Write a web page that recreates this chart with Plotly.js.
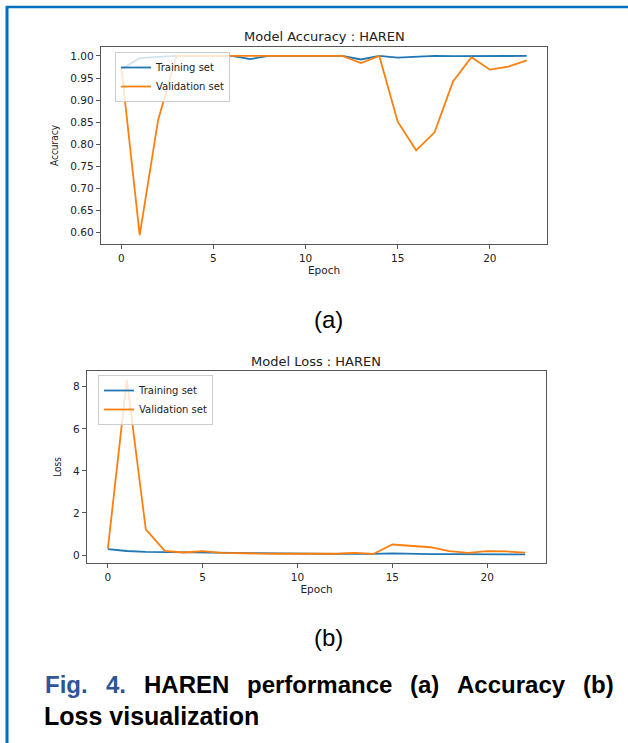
<!DOCTYPE html>
<html>
<head>
<meta charset="utf-8">
<script src="https://cdn.plot.ly/plotly-3.0.1.min.js"></script>
<style>
html,body{margin:0;padding:0;background:#fff;}
#chart{width:628px;height:743px;}
</style>
</head>
<body>
<div id="chart"></div>
<script>
// ---- data ----
const epochs = [0,1,2,3,4,5,6,7,8,9,10,11,12,13,14,15,16,17,18,19,20,21,22];
const trainAcc = [0.970,0.995,0.998,1.000,1.000,1.000,1.000,0.993,1.000,1.000,1.000,1.000,1.000,0.992,1.000,0.996,0.998,1.000,0.9995,1.000,1.000,1.000,1.000];
const valAcc   = [0.975,0.594,0.855,1.000,1.000,1.000,1.000,1.000,1.000,1.000,1.000,1.000,1.000,0.984,1.000,0.851,0.786,0.827,0.942,0.997,0.969,0.976,0.990];
const trainLoss = [0.28,0.19,0.15,0.14,0.11,0.13,0.09,0.10,0.07,0.06,0.06,0.05,0.05,0.07,0.05,0.08,0.05,0.04,0.04,0.04,0.03,0.03,0.03];
const valLoss   = [0.30,8.33,1.22,0.20,0.12,0.18,0.10,0.10,0.07,0.06,0.06,0.06,0.06,0.10,0.05,0.50,0.42,0.37,0.18,0.10,0.18,0.17,0.11];
const seriesNames = ["Training set","Validation set"];
const xTicks = [0,5,10,15,20];
const accTicks = [0.60,0.65,0.70,0.75,0.80,0.85,0.90,0.95,1.00];
const lossTicks = [0,2,4,6,8];
const captionWords = ["Fig.","4.","HAREN","performance","(a)","Accuracy","(b)"];

const W = 628, H = 743;
const px = x => x / W;
const py = y => 1 - y / H;
const BLUE = "#1f77b4", ORANGE = "#ff7f0e";
const tickFont = {family:"DejaVu Sans", size:10.5, color:"#222"};

function axisX(domain, anchor){
  return {domain:domain, anchor:anchor, range:[-1.1,23.1], tickvals:xTicks, ticktext:xTicks.map(String),
    showline:true, mirror:true, linecolor:"#555", linewidth:1.2, ticks:"outside", ticklen:4, tickcolor:"#555",
    showgrid:false, zeroline:false, tickfont:tickFont,
    title:{text:"Epoch", font:{family:"DejaVu Sans", size:10.5, color:"#222"}, standoff:2}};
}
function axisY(domain, anchor, range, ticks, fmt, title){
  return {domain:domain, anchor:anchor, range:range, tickvals:ticks, ticktext:ticks.map(v=>v.toFixed(fmt)),
    showline:true, mirror:true, linecolor:"#555", linewidth:1.2, ticks:"outside", ticklen:4, tickcolor:"#555",
    showgrid:false, zeroline:false, tickfont:tickFont,
    title:{text:title, font:{family:"DejaVu Sans Condensed, DejaVu Sans", size:10, color:"#222"}, standoff:9}};
}

const traces = [
  {x:epochs, y:trainAcc, type:"scatter", mode:"lines", name:seriesNames[0], line:{color:BLUE, width:1.8}, xaxis:"x", yaxis:"y", legend:"legend"},
  {x:epochs, y:valAcc, type:"scatter", mode:"lines", name:seriesNames[1], line:{color:ORANGE, width:1.8}, xaxis:"x", yaxis:"y", legend:"legend"},
  {x:epochs, y:trainLoss, type:"scatter", mode:"lines", name:seriesNames[0], line:{color:BLUE, width:1.8}, xaxis:"x2", yaxis:"y2", legend:"legend2"},
  {x:epochs, y:valLoss, type:"scatter", mode:"lines", name:seriesNames[1], line:{color:ORANGE, width:1.8}, xaxis:"x2", yaxis:"y2", legend:"legend2"}
];

const legendStyle = (x,y) => ({x:x, y:y, xanchor:"left", yanchor:"top", bgcolor:"rgba(255,255,255,0.8)",
  bordercolor:"#ccc", borderwidth:1, font:{family:"DejaVu Sans", size:10, color:"#222"}, tracegroupgap:0, itemwidth:30});

// justified first caption line: measure word widths and spread gaps evenly
const capFont = 24, capLeft = 43, capRight = 612;
const ctx = document.createElement("canvas").getContext("2d");
ctx.font = "bold " + capFont + "px 'Liberation Sans', Arial, sans-serif";
const widths = captionWords.map(w => ctx.measureText(w).width);
const totalW = widths.reduce((a,b)=>a+b,0);
const gap = (capRight - capLeft - totalW) / (captionWords.length - 1);
const captionX = [];
let cx = capLeft;
widths.forEach(w => { captionX.push(cx); cx += w + gap; });

const annotations = [
  {text:"Model Accuracy : HAREN", x:px(324), y:py(36), xref:"paper", yref:"paper", showarrow:false, xanchor:"center", yanchor:"middle", font:{family:"DejaVu Sans", size:13, color:"#222"}},
  {text:"Model Loss : HAREN", x:px(316), y:py(361), xref:"paper", yref:"paper", showarrow:false, xanchor:"center", yanchor:"middle", font:{family:"DejaVu Sans", size:13, color:"#222"}},
  {text:"(a)", x:px(328), y:py(319), xref:"paper", yref:"paper", showarrow:false, xanchor:"center", yanchor:"middle", font:{family:"Liberation Sans, Arial", size:24, color:"#000"}},
  {text:"(b)", x:px(328), y:py(637), xref:"paper", yref:"paper", showarrow:false, xanchor:"center", yanchor:"middle", font:{family:"Liberation Sans, Arial", size:24, color:"#000"}},
  {text:"<b>Loss visualization</b>", x:px(42), y:py(716), xref:"paper", yref:"paper", showarrow:false, xanchor:"left", yanchor:"middle", font:{family:"Liberation Sans, Arial", size:25, color:"#000"}}
];
captionWords.forEach((w,i)=>{
  annotations.push({text:"<b>"+w+"</b>", x:px(captionX[i]), y:py(684), xref:"paper", yref:"paper", showarrow:false,
    xanchor:"left", yanchor:"middle", font:{family:"Liberation Sans, Arial", size:capFont, color: i<2 ? "#2f5597" : "#000"}});
});

const layout = {
  width:W, height:H, margin:{l:0,r:0,t:0,b:0}, paper_bgcolor:"#fff", plot_bgcolor:"#fff",
  showlegend:true,
  xaxis: axisX([px(101), px(547)], "y"),
  yaxis: axisY([py(244), py(47)], "x", [0.5737,1.0203], accTicks, 2, "Accuracy"),
  xaxis2: axisX([px(87), px(546)], "y2"),
  yaxis2: axisY([py(563), py(371)], "x2", [-0.38,8.75], lossTicks, 0, "Loss"),
  legend: legendStyle(px(115), py(52)),
  legend2: legendStyle(px(98), py(375)),
  annotations: annotations,
  shapes: [
    {type:"line", xref:"paper", yref:"paper", x0:px(6), x1:1, y0:py(7), y1:py(7), line:{color:"#0070c0", width:2.5}},
    {type:"line", xref:"paper", yref:"paper", x0:px(7), x1:px(7), y0:py(6), y1:0, line:{color:"#0070c0", width:3}}
  ]
};

Plotly.newPlot("chart", traces, layout, {displayModeBar:false, staticPlot:true});
</script>
</body>
</html>
